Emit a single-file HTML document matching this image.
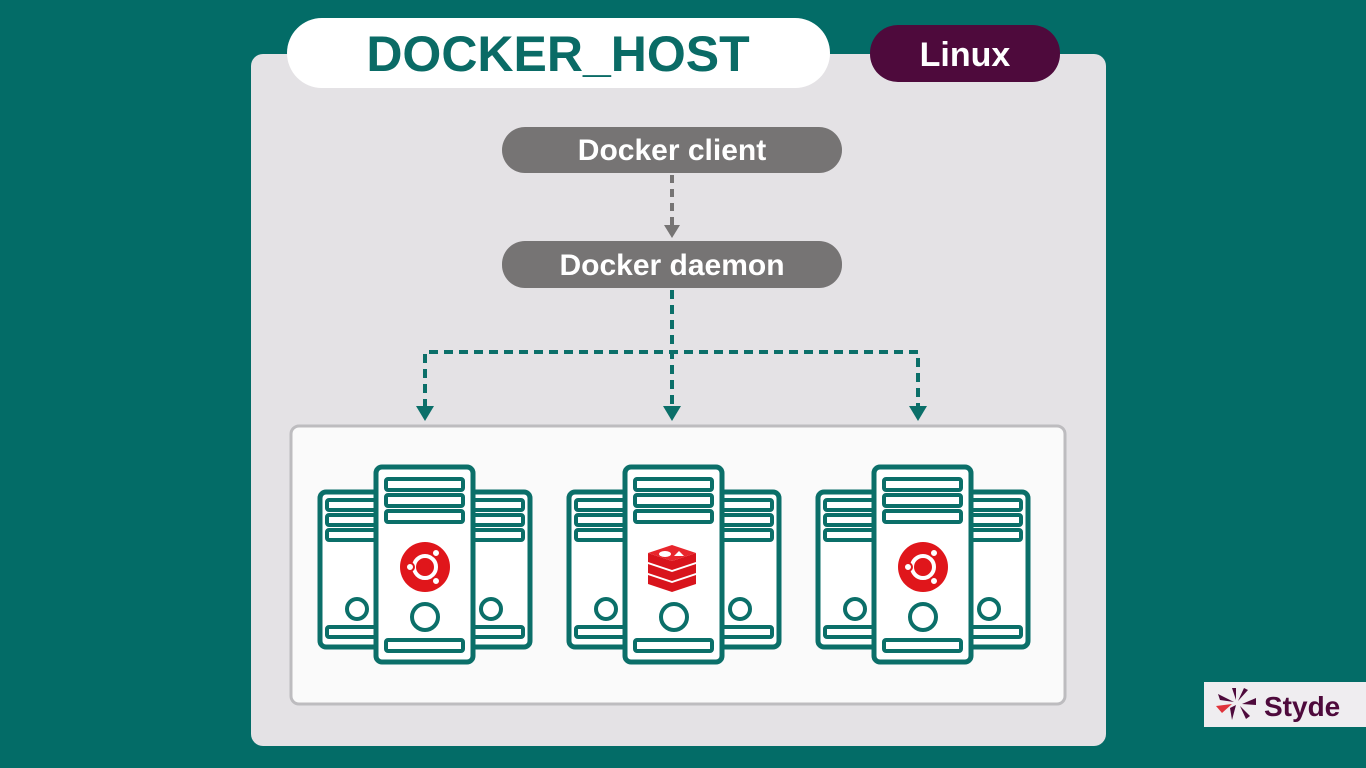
<!DOCTYPE html>
<html><head><style>
html,body{margin:0;padding:0;width:1366px;height:768px;overflow:hidden;background:#036c67;}
</style></head><body>
<svg width="1366" height="768" xmlns="http://www.w3.org/2000/svg" style="position:absolute;left:0;top:0">
<defs>
<g id="srv" fill="#fff" stroke="#0b6f69" stroke-width="5">
  <rect x="320" y="492" width="90" height="155" rx="6"/>
  <rect x="440" y="492" width="90" height="155" rx="6"/>
  <rect x="327" y="500" width="50" height="10" rx="2" stroke-width="4"/>
  <rect x="327" y="515" width="50" height="10" rx="2" stroke-width="4"/>
  <rect x="327" y="530" width="50" height="10" rx="2" stroke-width="4"/>
  <rect x="473" y="500" width="50" height="10" rx="2" stroke-width="4"/>
  <rect x="473" y="515" width="50" height="10" rx="2" stroke-width="4"/>
  <rect x="473" y="530" width="50" height="10" rx="2" stroke-width="4"/>
  <circle cx="357" cy="609" r="10" stroke-width="4"/>
  <circle cx="491" cy="609" r="10" stroke-width="4"/>
  <rect x="327" y="627" width="50" height="10" rx="2" stroke-width="4"/>
  <rect x="473" y="627" width="50" height="10" rx="2" stroke-width="4"/>
  <rect x="376" y="467" width="97" height="195" rx="6"/>
  <rect x="386" y="479" width="77" height="11" rx="2" stroke-width="4"/>
  <rect x="386" y="495" width="77" height="11" rx="2" stroke-width="4"/>
  <rect x="386" y="511" width="77" height="11" rx="2" stroke-width="4"/>
  <circle cx="425" cy="617" r="13" stroke-width="4"/>
  <rect x="386" y="640" width="77" height="11" rx="2" stroke-width="4"/>
</g>
<g id="ubu">
  <circle cx="425" cy="567" r="25" fill="#e0161b"/>
  <circle cx="425" cy="567" r="11" fill="none" stroke="#fff" stroke-width="4"/>
  <circle cx="425" cy="567" r="5" fill="#e0161b"/>
  <circle cx="436" cy="553" r="4" fill="#fff" stroke="#e0161b" stroke-width="2"/>
  <circle cx="410" cy="567" r="4" fill="#fff" stroke="#e0161b" stroke-width="2"/>
  <circle cx="436" cy="581" r="4" fill="#fff" stroke="#e0161b" stroke-width="2"/>
</g>
</defs>
<rect x="251" y="54" width="855" height="692" rx="12" fill="#e4e2e5"/>
<rect x="287" y="18" width="543" height="70" rx="35" fill="#fff"/>
<text x="558" y="71" text-anchor="middle" font-family="Liberation Sans, sans-serif" font-weight="bold" font-size="50" fill="#0a6b66">DOCKER_HOST</text>
<rect x="870" y="25" width="190" height="57" rx="28" fill="#4e0a3c"/>
<text x="965" y="66" text-anchor="middle" font-family="Liberation Sans, sans-serif" font-weight="bold" font-size="34" fill="#fff">Linux</text>
<rect x="502" y="127" width="340" height="46" rx="23" fill="#767474"/>
<text x="672" y="160" text-anchor="middle" font-family="Liberation Sans, sans-serif" font-weight="bold" font-size="30" fill="#fff">Docker client</text>
<rect x="502" y="241" width="340" height="47" rx="23" fill="#767474"/>
<text x="672" y="275" text-anchor="middle" font-family="Liberation Sans, sans-serif" font-weight="bold" font-size="30" fill="#fff">Docker daemon</text>
<line x1="672" y1="175" x2="672" y2="226" stroke="#767474" stroke-width="4" stroke-dasharray="8,6"/>
<polygon points="664,225 680,225 672,238" fill="#767474"/>
<g stroke="#0b6f69" stroke-width="4" stroke-dasharray="9,6" fill="none">
<line x1="672" y1="290" x2="672" y2="408"/>
<polyline points="425,408 425,352 918,352 918,408"/>
</g>
<g fill="#0b6f69">
<polygon points="416,406 434,406 425,421"/>
<polygon points="663,406 681,406 672,421"/>
<polygon points="909,406 927,406 918,421"/>
</g>
<rect x="291" y="426" width="774" height="278" rx="8" fill="#fafafa" stroke="#bdbcbf" stroke-width="3"/>
<use href="#srv"/><use href="#ubu"/>
<use href="#srv" transform="translate(249,0)"/>
<use href="#srv" transform="translate(498,0)"/><use href="#ubu" transform="translate(498,0)"/>
<g fill="#d8141c">
<path d="M648 575 L672 583 L696 575 L696 584 L672 592 L648 584Z"/>
<path d="M648 564 L672 572 L696 564 L696 573 L672 581 L648 573Z"/>
<path d="M648 553 L672 561 L696 553 L696 562 L672 570 L648 562Z"/>
<path d="M648 553 L672 545 L696 553 L672 561Z" fill="#e8262c"/>
</g>
<ellipse cx="665" cy="554" rx="6" ry="3" fill="#fff"/>
<polygon points="674,556 684,556 679,551" fill="#fff"/>
<rect x="1204" y="682" width="162" height="45" fill="#efedf0"/>
<g fill="#4e0a3c">
<polygon points="1232,688 1236,688 1236,700"/>
<polygon points="1244,688 1248,690 1238,701"/>
<polygon points="1218,694 1234,702 1220,700"/>
<polygon points="1256,698 1242,704 1256,705"/>
<polygon points="1230,708 1236,705 1232,720"/>
<polygon points="1246,719 1240,706 1250,716"/>
</g>
<polygon points="1216,706 1232,704 1222,713" fill="#e0333b"/>
<text x="1264" y="716" font-family="Liberation Sans, sans-serif" font-weight="bold" font-size="28" fill="#4e0a3c">Styde</text>
</svg>
</body></html>
